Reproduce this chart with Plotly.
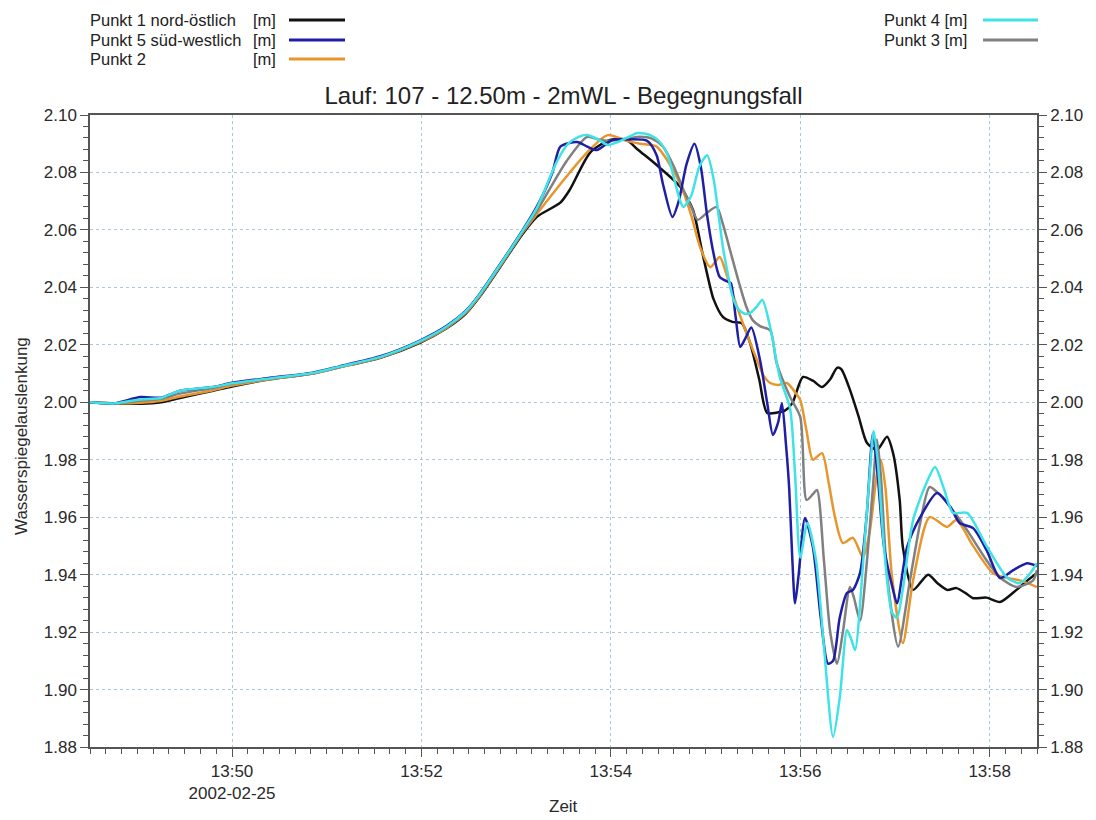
import plotly.graph_objects as go
import pandas as pd

# ---------------- data (seconds after 13:48:30, value in m) ----------------
BASE_TIME = "2002-02-25 13:48:30"

p1_s = [0, 15, 32, 45, 57, 78, 90, 114, 141, 158, 184, 209, 226, 238, 247, 260, 274, 283, 298, 304, 317, 329.5, 340, 347, 359, 374, 382, 388, 393, 395, 401, 407, 413, 418, 424, 429, 436, 440, 445, 451.7, 458, 463.8, 469, 473.3, 476, 481.5, 487, 492.3, 498.6, 505, 508.8, 513, 515, 521.5, 531, 537, 543, 549, 555, 559.5, 568, 576.6, 587, 594, 600]
p1_v = [2.000, 1.9996, 1.9995, 2.0000, 2.0015, 2.0040, 2.0055, 2.0080, 2.0100, 2.0122, 2.0155, 2.0207, 2.0258, 2.0308, 2.0368, 2.0472, 2.0585, 2.0645, 2.0695, 2.0740, 2.0870, 2.0913, 2.0913, 2.0880, 2.0826, 2.0750, 2.0670, 2.0520, 2.0400, 2.0360, 2.0297, 2.0280, 2.0275, 2.0210, 2.0080, 1.9963, 1.9965, 1.9970, 1.9997, 2.0088, 2.0075, 2.0053, 2.0080, 2.0120, 2.0115, 2.0043, 1.9950, 1.9858, 1.9834, 1.9880, 1.9823, 1.9660, 1.9496, 1.9347, 1.9400, 1.9370, 1.9347, 1.9353, 1.9335, 1.9318, 1.9320, 1.9305, 1.9347, 1.9380, 1.9406]

p5_s = [0, 15, 32, 45, 57, 78, 90, 114, 141, 158, 184, 209, 226, 238, 247, 260, 274, 283, 293, 298, 308.6, 315, 321, 331, 340, 353, 359, 363, 369, 373, 378, 383, 387, 391, 395, 399, 404, 406, 409, 412, 415, 419, 424.5, 429, 432.7, 436, 438.4, 441, 443, 445, 446.7, 449, 453, 458, 463, 467.6, 470.8, 475, 479.6, 483.4, 487.9, 492, 496, 499, 503, 508.8, 511.3, 517.7, 526, 536.7, 545, 551, 559.5, 568, 576.6, 585, 593.7, 600]
p5_v = [2.000, 1.9996, 2.0018, 2.0016, 2.0040, 2.0053, 2.0068, 2.0085, 2.0103, 2.0125, 2.0160, 2.0215, 2.0266, 2.0318, 2.0378, 2.0482, 2.0598, 2.0680, 2.0800, 2.0890, 2.0906, 2.0890, 2.0878, 2.0913, 2.0915, 2.0910, 2.0860, 2.0760, 2.0645, 2.0700, 2.0830, 2.0900, 2.0820, 2.0650, 2.0520, 2.0436, 2.0420, 2.0415, 2.0300, 2.0193, 2.0220, 2.0260, 2.0147, 2.0000, 1.9886, 1.9930, 1.9997, 1.9850, 1.9700, 1.9450, 1.9300, 1.9400, 1.9597, 1.9496, 1.9250, 1.9090, 1.9100, 1.9250, 1.9336, 1.9347, 1.9406, 1.9600, 1.9890, 1.9750, 1.9500, 1.9347, 1.9300, 1.9496, 1.9600, 1.9684, 1.9636, 1.9580, 1.9562, 1.9486, 1.9388, 1.9416, 1.9440, 1.9430]

p2_s = [0, 15, 32, 45, 57, 78, 90, 114, 141, 158, 184, 209, 226, 238, 247, 260, 274, 283, 304, 315, 328, 340, 348.5, 359, 366, 374, 381, 386.5, 393, 399, 403, 407, 412, 416, 422.6, 427, 431, 436, 441.6, 446, 450, 454, 458, 463.8, 468, 472, 477, 483.4, 489.8, 494, 498.6, 501, 504, 508, 515, 521.5, 532, 543, 549, 559.5, 572, 580, 589, 600]
p2_v = [2.000, 1.9996, 1.9998, 2.0005, 2.0020, 2.0042, 2.0058, 2.0080, 2.0100, 2.0122, 2.0156, 2.0209, 2.0260, 2.0311, 2.0371, 2.0475, 2.0590, 2.0655, 2.0800, 2.0870, 2.0930, 2.0910, 2.0900, 2.0890, 2.0840, 2.0760, 2.0650, 2.0540, 2.0470, 2.0506, 2.0450, 2.0380, 2.0300, 2.0240, 2.0147, 2.0090, 2.0067, 2.0060, 2.0067, 2.0040, 2.0008, 1.9900, 1.9800, 1.9823, 1.9720, 1.9600, 1.9510, 1.9528, 1.9460, 1.9550, 1.9750, 1.9800, 1.9700, 1.9400, 1.9162, 1.9380, 1.9600, 1.9566, 1.9590, 1.9500, 1.9406, 1.9390, 1.9380, 1.9357]

p4_s = [0, 15, 32, 45, 57, 78, 90, 114, 141, 158, 184, 209, 226, 238, 247, 260, 274, 283, 296, 303, 310, 315, 322, 328, 334, 340, 347, 355, 361, 366, 370, 374, 376, 381, 386, 391, 395, 399, 401, 404, 407, 410, 414, 418, 422, 426, 431, 437, 443.5, 446.7, 450, 454.5, 460, 465, 470.8, 475, 479.6, 482, 484.7, 489.8, 494, 496.5, 499, 503, 508, 511.3, 515, 521.5, 530, 535.4, 541, 546.8, 555.7, 568, 581, 589, 595, 600]
p4_v = [2.000, 1.9996, 2.0010, 2.0015, 2.0040, 2.0053, 2.0066, 2.0083, 2.0102, 2.0124, 2.0158, 2.0213, 2.0264, 2.0316, 2.0376, 2.0480, 2.0596, 2.0675, 2.0840, 2.0900, 2.0925, 2.0930, 2.0915, 2.0896, 2.0905, 2.0920, 2.0937, 2.0930, 2.0906, 2.0860, 2.0780, 2.0700, 2.0680, 2.0720, 2.0820, 2.0860, 2.0780, 2.0620, 2.0540, 2.0450, 2.0370, 2.0330, 2.0310, 2.0310, 2.0330, 2.0356, 2.0260, 2.0088, 1.9980, 1.9750, 1.9460, 1.9580, 1.9450, 1.9150, 1.8835, 1.8970, 1.9207, 1.9180, 1.9138, 1.9440, 1.9750, 1.9900, 1.9800, 1.9500, 1.9270, 1.9250, 1.9350, 1.9590, 1.9720, 1.9775, 1.9700, 1.9615, 1.9615, 1.9500, 1.9390, 1.9370, 1.9400, 1.9440]

p3_s = [0, 15, 32, 45, 57, 78, 90, 114, 141, 158, 184, 209, 226, 238, 247, 260, 274, 283, 302, 315, 322, 328, 340, 348.5, 356, 363, 370, 376, 381, 385, 391, 397, 401, 405.5, 411, 416, 420, 424.5, 431, 435, 443.5, 450, 454, 458, 460.6, 465, 469, 473.3, 477, 481.5, 484, 487.9, 492.3, 496, 498.6, 501, 505, 512, 519.5, 526, 532, 538, 545, 555.7, 568, 576.6, 587, 597.5, 600]
p3_v = [2.000, 1.9996, 2.0005, 2.0012, 2.0030, 2.0050, 2.0064, 2.0082, 2.0101, 2.0123, 2.0157, 2.0211, 2.0262, 2.0314, 2.0374, 2.0478, 2.0593, 2.0665, 2.0840, 2.0924, 2.0915, 2.0910, 2.0918, 2.0924, 2.0918, 2.0890, 2.0820, 2.0740, 2.0680, 2.0635, 2.0660, 2.0680, 2.0620, 2.0530, 2.0420, 2.0330, 2.0285, 2.0265, 2.0250, 2.0137, 2.0019, 1.9949, 1.9660, 1.9680, 1.9695, 1.9450, 1.9200, 1.9090, 1.9200, 1.9357, 1.9320, 1.9240, 1.9450, 1.9700, 1.9870, 1.9750, 1.9400, 1.9150, 1.9380, 1.9580, 1.9705, 1.9680, 1.9636, 1.9555, 1.9450, 1.9390, 1.9357, 1.9380, 1.9416]

names_left = ["Punkt 1 nord-östlich", "Punkt 5 süd-westlich", "Punkt 2"]
names_right = ["Punkt 4 [m]", "Punkt 3 [m]"]
unit = "[m]"

tick_minutes = ["13:50", "13:52", "13:54", "13:56", "13:58"]
date_label = "2002-02-25"
title_text = "Lauf: 107 - 12.50m - 2mWL - Begegnungsfall"
x_title = "Zeit"
y_title = "Wasserspiegelauslenkung"
y_range = [1.88, 2.10]

# ---------------- styling ----------------
C_BLACK = "#111111"
C_BLUE = "#1f1fa6"
C_ORANGE = "#e8962c"
C_CYAN = "#3fe3e6"
C_GRAY = "#808080"
AX = "#555555"
GRID = "#a9c8d8"
TXT = "#2a2a2a"
FONT = "Arial, Liberation Sans, sans-serif"
TICK_SIZE = 17

W, H = 1096, 820
L, R, T, B = 90, 1037, 115, 747

base = pd.Timestamp(BASE_TIME)


def tx(secs):
    return [base + pd.Timedelta(seconds=s) for s in secs]


series = [
    (p1_s, p1_v, C_BLACK, names_left[0]),
    (p2_s, p2_v, C_ORANGE, names_left[2]),
    (p3_s, p3_v, C_GRAY, "Punkt 3"),
    (p5_s, p5_v, C_BLUE, names_left[1]),
    (p4_s, p4_v, C_CYAN, "Punkt 4"),
]

fig = go.Figure()
for s, v, c, n in series:
    fig.add_trace(go.Scatter(x=tx(s), y=v, mode="lines", name=n, showlegend=False,
                             line=dict(color=c, width=2.5, shape="spline", smoothing=0.7)))
# invisible trace to carry the right-hand axis
fig.add_trace(go.Scatter(x=tx([p1_s[0]]), y=[p1_v[0]], yaxis="y2", mode="lines",
                         showlegend=False, hoverinfo="skip", line=dict(width=0)))

x0 = base
x1 = base + pd.Timedelta(seconds=600)
day = base.strftime("%Y-%m-%d")
tickvals = [pd.Timestamp(f"{day} {m}") for m in tick_minutes]
ticktext = [tick_minutes[0] + "<br>" + date_label] + tick_minutes[1:]

common_y = dict(range=y_range, dtick=0.02, tick0=1.88, tickformat=".2f",
                ticks="outside", ticklen=8, tickwidth=1, tickcolor=AX,
                showline=True, linecolor=AX, linewidth=1.5,
                minor=dict(ticks="outside", ticklen=5, dtick=0.004, tick0=1.88,
                           tickcolor=AX, showgrid=False),
                tickfont=dict(size=TICK_SIZE, color=TXT, family=FONT), zeroline=False)

fig.update_layout(
    width=W, height=H,
    margin=dict(l=L, r=W - R, t=T, b=H - B, autoexpand=False),
    plot_bgcolor="white", paper_bgcolor="white",
    font=dict(family=FONT, size=TICK_SIZE, color=TXT),
    title=dict(text=title_text, x=0.5, xref="paper", xanchor="center",
               y=1 - 96 / H, yref="container", yanchor="middle",
               font=dict(size=24, color="#222222", family=FONT)),
    xaxis=dict(type="date", range=[x0, x1], tickvals=tickvals, ticktext=ticktext,
               ticks="outside", ticklen=8, tickwidth=1, tickcolor=AX,
               showline=True, linecolor=AX, linewidth=1.5, mirror=True,
               showgrid=True, gridcolor=GRID, griddash="dot", gridwidth=1,
               minor=dict(ticks="outside", ticklen=5, dtick=10000,
                          tick0=base.strftime("%Y-%m-%d %H:%M:%S"),
                          tickcolor=AX, showgrid=False),
               tickfont=dict(size=TICK_SIZE, color=TXT, family=FONT),
               zeroline=False),
    yaxis=dict(showgrid=True, gridcolor=GRID, griddash="dot", gridwidth=1, **common_y),
    yaxis2=dict(overlaying="y", side="right", showgrid=False, **common_y),
)


# ---------------- helpers to place text in pixel terms ----------------
def px_x(px):
    return (px - L) / (R - L)


def px_y(py):
    return (B - py) / (B - T)


# axis titles
fig.add_annotation(text=x_title, x=px_x(563), y=px_y(806), xref="paper", yref="paper",
                   xanchor="center", yanchor="middle", showarrow=False,
                   font=dict(size=TICK_SIZE, color=TXT, family=FONT))
fig.add_annotation(text=y_title, x=px_x(21), y=px_y(436), xref="paper", yref="paper",
                   xanchor="center", yanchor="middle", showarrow=False, textangle=-90,
                   font=dict(size=TICK_SIZE, color=TXT, family=FONT))

# ---------------- legend drawn as text + line samples ----------------
LEG = 16.5
left_rows_y = [20, 40, 59]
left_colors = [C_BLACK, C_BLUE, C_ORANGE]
for name, yy, col in zip(names_left, left_rows_y, left_colors):
    fig.add_annotation(text=name, x=px_x(88), y=px_y(yy), xref="paper", yref="paper",
                       xanchor="left", yanchor="middle", showarrow=False,
                       font=dict(size=LEG, color="#222222", family=FONT))
    fig.add_annotation(text=unit, x=px_x(278), y=px_y(yy), xref="paper", yref="paper",
                       xanchor="right", yanchor="middle", showarrow=False,
                       font=dict(size=LEG, color="#222222", family=FONT))
    fig.add_shape(type="line", xref="paper", yref="paper",
                  x0=px_x(289), x1=px_x(345), y0=px_y(yy), y1=px_y(yy),
                  line=dict(color=col, width=3))

right_rows_y = [20, 40]
right_colors = [C_CYAN, C_GRAY]
for name, yy, col in zip(names_right, right_rows_y, right_colors):
    fig.add_annotation(text=name, x=px_x(969), y=px_y(yy), xref="paper", yref="paper",
                       xanchor="right", yanchor="middle", showarrow=False,
                       font=dict(size=LEG, color="#222222", family=FONT))
    fig.add_shape(type="line", xref="paper", yref="paper",
                  x0=px_x(983), x1=px_x(1038), y0=px_y(yy), y1=px_y(yy),
                  line=dict(color=col, width=3))

fig.write_html("out.html")
